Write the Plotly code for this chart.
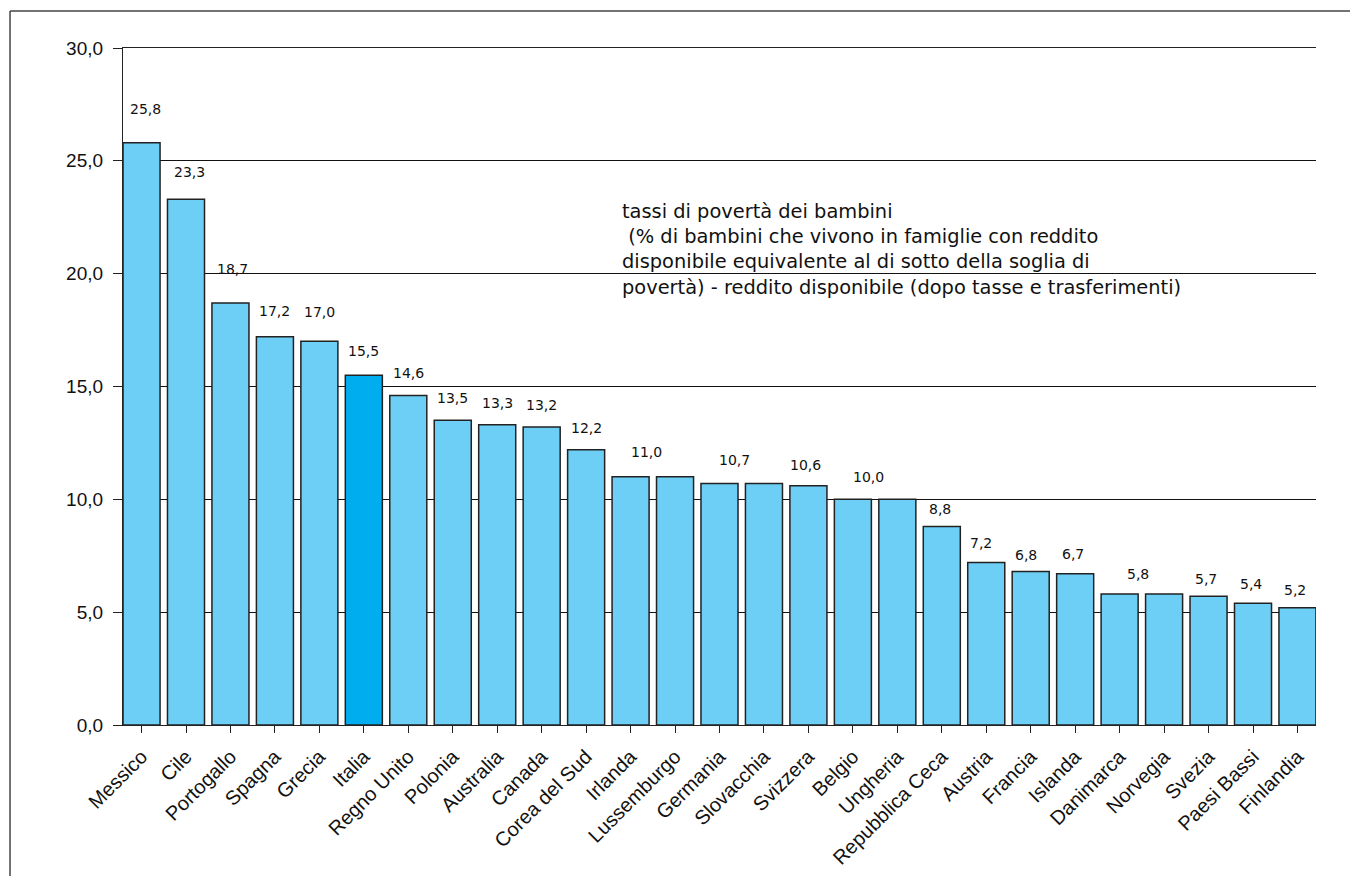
import plotly.graph_objects as go

countries = ["Messico", "Cile", "Portogallo", "Spagna", "Grecia", "Italia", "Regno Unito",
             "Polonia", "Australia", "Canada", "Corea del Sud", "Irlanda", "Lussemburgo",
             "Germania", "Slovacchia", "Svizzera", "Belgio", "Ungheria", "Repubblica Ceca",
             "Austria", "Francia", "Islanda", "Danimarca", "Norvegia", "Svezia",
             "Paesi Bassi", "Finlandia"]
poverty_rate = [25.8, 23.3, 18.7, 17.2, 17.0, 15.5, 14.6, 13.5, 13.3, 13.2, 12.2, 11.0, 11.0,
                10.7, 10.7, 10.6, 10.0, 10.0, 8.8, 7.2, 6.8, 6.7, 5.8, 5.8, 5.7, 5.4, 5.2]
# which bars carry a value label (duplicated values share one label)
show_label = [1, 1, 1, 1, 1, 1, 1, 1, 1, 1, 1, 1, 0,
              1, 0, 1, 1, 0, 1, 1, 1, 1, 1, 0, 1, 1, 1]
highlight = "Italia"
y_ticks = [0, 5, 10, 15, 20, 25, 30]
note_lines = ["tassi di povertà dei bambini",
              "\u00a0(% di bambini che vivono in famiglie con reddito",
              "disponibile equivalente al di sotto della soglia di",
              "povertà) - reddito disponibile (dopo tasse e trasferimenti)"]

# label placement nudges (style only): horizontal shift in category units, vertical gap in px
label_dx = [0.08, 0.07, 0.05, 0, 0, 0, 0, 0, 0, 0, 0, 0.36, 0,
            0.34, 0, -0.06, 0.36, 0, -0.04, -0.12, -0.1, -0.06, 0.42, 0, -0.06, -0.05, -0.06]
label_gap = [34, 27, 34, 26, 29, 24, 23, 22, 22, 22, 22, 25, 0,
             24, 0, 21, 22, 0, 17, 20, 17, 20, 20, 0, 17, 19, 18]

LIGHT = "#6dcff6"
DARK = "#00aeef"
colors = [DARK if c == highlight else LIGHT for c in countries]

fig = go.Figure()
fig.add_trace(go.Bar(
    x=list(range(len(countries))),
    y=poverty_rate,
    marker=dict(color=colors, line=dict(color="#222222", width=1.5)),
    hoverinfo="x+y",
    showlegend=False,
))

annotations = []
for i, (v, s) in enumerate(zip(poverty_rate, show_label)):
    if not s:
        continue
    annotations.append(dict(
        x=i + label_dx[i], y=v, xref="x", yref="y",
        text=f"{v:.1f}".replace(".", ","),
        showarrow=False, xanchor="center", yanchor="middle",
        yshift=label_gap[i],
        font=dict(family="DejaVu Sans", size=14, color="#111111"),
    ))

annotations.append(dict(
    x=0.4166, y=0.703, xref="paper", yref="paper",
    text="<br>".join(note_lines), showarrow=False,
    xanchor="left", yanchor="middle", align="left",
    font=dict(family="DejaVu Sans", size=19.4, color="#111111"),
))

frame = dict(color="#444444", width=1.5)
fig.update_layout(
    width=1342, height=868,
    margin=dict(l=115, r=34, t=40, b=151, pad=0, autoexpand=False),
    paper_bgcolor="white", plot_bgcolor="white",
    separators=",.",
    bargap=0.167,
    annotations=annotations,
    shapes=[
        dict(type="line", xref="paper", yref="paper",
             x0=-0.0947, x1=1.2, y0=1.0547, y1=1.0547, line=frame, layer="below"),
        dict(type="line", xref="paper", yref="paper",
             x0=-0.0947, x1=-0.0947, y0=-0.5, y1=1.0547, line=frame, layer="below"),
    ],
    xaxis=dict(
        tickmode="array",
        tickvals=list(range(len(countries))),
        ticktext=countries,
        range=[-0.417, len(countries) - 0.583],
        tickangle=-45,
        tickson="boundaries",
        ticks="outside", ticklen=7, tickcolor="#222222", tickwidth=1.2,
        showline=True, linecolor="#222222", linewidth=1.3, mirror=True,
        showgrid=False, zeroline=False, automargin=False,
        ticklabelstandoff=4,
        tickfont=dict(family="Liberation Sans, Arial", size=20, color="#111111"),
    ),
    yaxis=dict(
        range=[0, 30],
        tickmode="array", tickvals=y_ticks,
        tickformat=".1f",
        ticks="outside", ticklen=9, tickcolor="#222222", tickwidth=1,
        showline=True, linecolor="#222222", linewidth=1.2,
        showgrid=True, gridcolor="#111111", gridwidth=1,
        zeroline=False, automargin=False,
        ticklabelstandoff=6,
        tickfont=dict(family="Liberation Sans, Arial", size=19, color="#111111"),
    ),
)

fig.write_html("out.html")
